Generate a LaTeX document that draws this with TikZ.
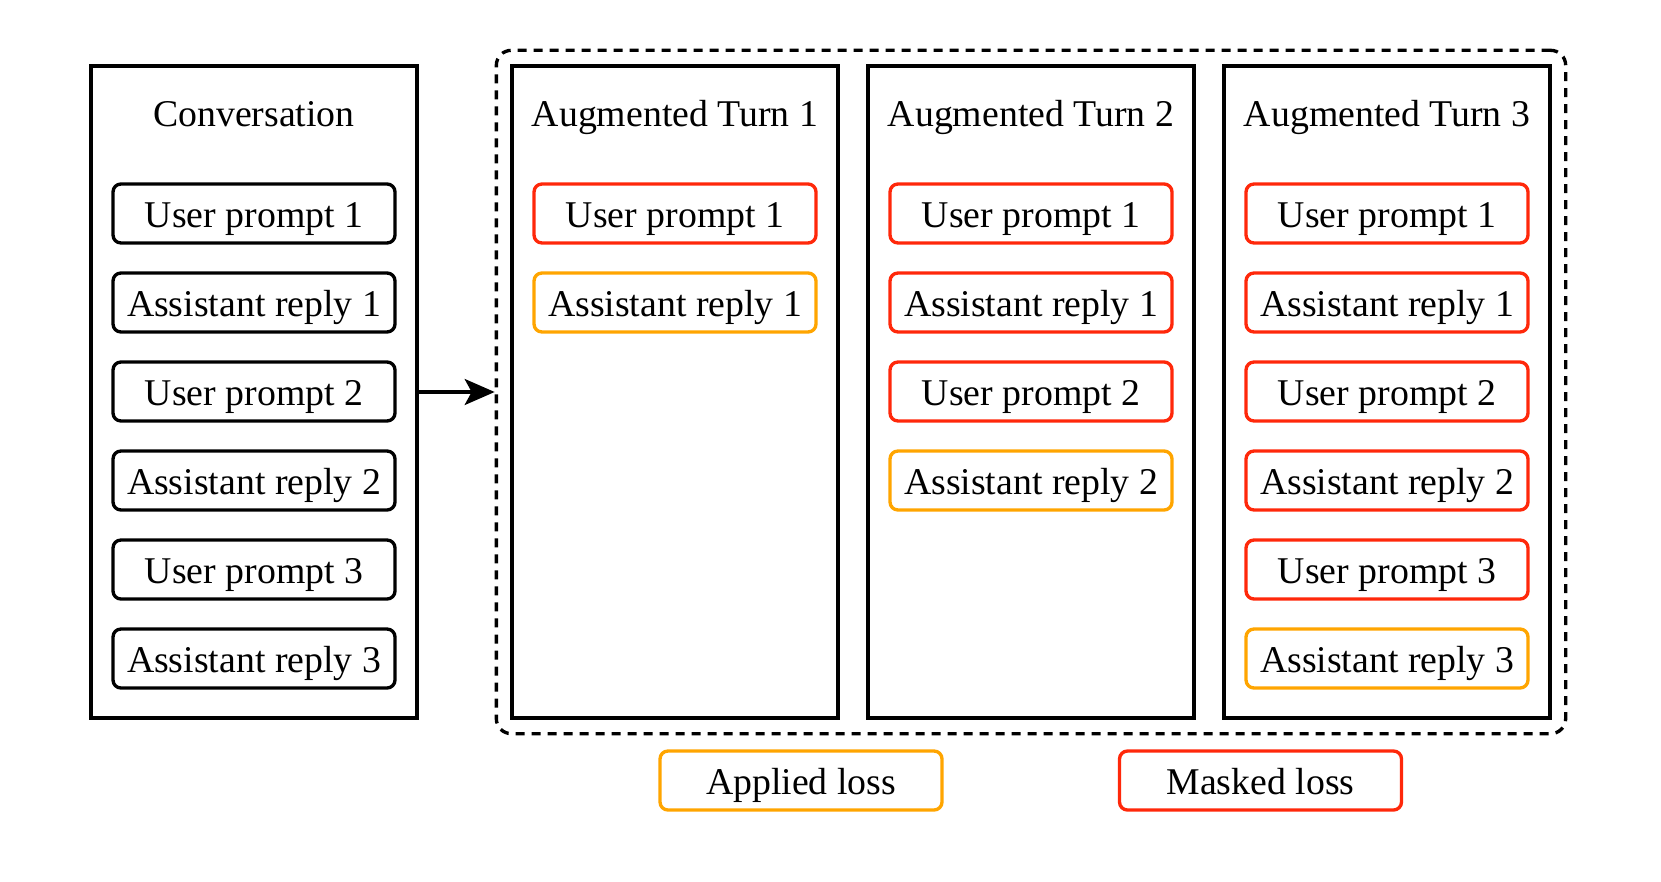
\documentclass[tikz,border=0pt]{standalone}
\usepackage{fontspec}
\setmainfont{Liberation Serif}
\usepackage{tikz}
\usetikzlibrary{fit}
\usetikzlibrary{arrows.meta}
\definecolor{maskred}{RGB}{255,40,10}
\definecolor{applyorange}{RGB}{255,165,0}
\tikzstyle{column}=[draw,line width=0.95pt,minimum width=3.26cm,minimum height=6.52cm,inner sep=0]
\tikzstyle{coltitle}=[anchor=base]
\tikzstyle{msg}=[draw,line width=0.95pt,rounded corners=0.08cm,minimum width=2.82cm,minimum height=0.59cm,
                 inner sep=0,text height=0.284cm,text depth=0cm]
\tikzstyle{msg_masked}=[msg,draw=maskred]
\tikzstyle{msg_applied}=[msg,draw=applyorange]

\begin{document}
\begin{tikzpicture}[font=\fontsize{10.75}{13}\selectfont]  % conversation split into turns
\useasboundingbox (0,0) rectangle (16.61,-8.81);

% original conversation
\node[column] (conv) at (2.54,-3.92) {};
\node[coltitle] (convtitle) at (2.54,-1.27) {Conversation};
\node[msg] (c1) at (2.54,-2.135) {User prompt 1};
\node[msg] (c2) at (2.54,-3.025) {Assistant reply 1};
\node[msg] (c3) at (2.54,-3.915) {User prompt 2};
\node[msg] (c4) at (2.54,-4.805) {Assistant reply 2};
\node[msg] (c5) at (2.54,-5.695) {User prompt 3};
\node[msg] (c6) at (2.54,-6.585) {Assistant reply 3};

% augmented turn 1
\node[column] (turnA) at (6.75,-3.92) {};
\node[coltitle] (turnAtitle) at (6.75,-1.27) {Augmented Turn 1};
\node[msg_masked] (a1) at (6.75,-2.135) {User prompt 1};
\node[msg_applied] (a2) at (6.75,-3.025) {Assistant reply 1};

% augmented turn 2
\node[column] (turnB) at (10.31,-3.92) {};
\node[coltitle] (turnBtitle) at (10.31,-1.27) {Augmented Turn 2};
\node[msg_masked] (b1) at (10.31,-2.135) {User prompt 1};
\node[msg_masked] (b2) at (10.31,-3.025) {Assistant reply 1};
\node[msg_masked] (b3) at (10.31,-3.915) {User prompt 2};
\node[msg_applied] (b4) at (10.31,-4.805) {Assistant reply 2};

% augmented turn 3
\node[column] (turnC) at (13.87,-3.92) {};
\node[coltitle] (turnCtitle) at (13.87,-1.27) {Augmented Turn 3};
\node[msg_masked] (d1) at (13.87,-2.135) {User prompt 1};
\node[msg_masked] (d2) at (13.87,-3.025) {Assistant reply 1};
\node[msg_masked] (d3) at (13.87,-3.915) {User prompt 2};
\node[msg_masked] (d4) at (13.87,-4.805) {Assistant reply 2};
\node[msg_masked] (d5) at (13.87,-5.695) {User prompt 3};
\node[msg_applied] (d6) at (13.87,-6.585) {Assistant reply 3};

\node[draw,line width=0.95pt,dash pattern=on 0.09cm off 0.07cm,rounded corners=0.15cm,
      inner sep=0.14cm,fit=(turnA) (turnC)] (turns) {};

\draw[line width=0.95pt,-{Stealth[length=0.3cm,width=0.26cm,inset=0.07cm]}] (conv.east) -- (turns.west);

% legend
\node[msg_applied] (applied) at (8.01,-7.805) {Applied loss};
\node[msg_masked] (masked) at (12.605,-7.805) {Masked loss};
\end{tikzpicture}
\end{document}
